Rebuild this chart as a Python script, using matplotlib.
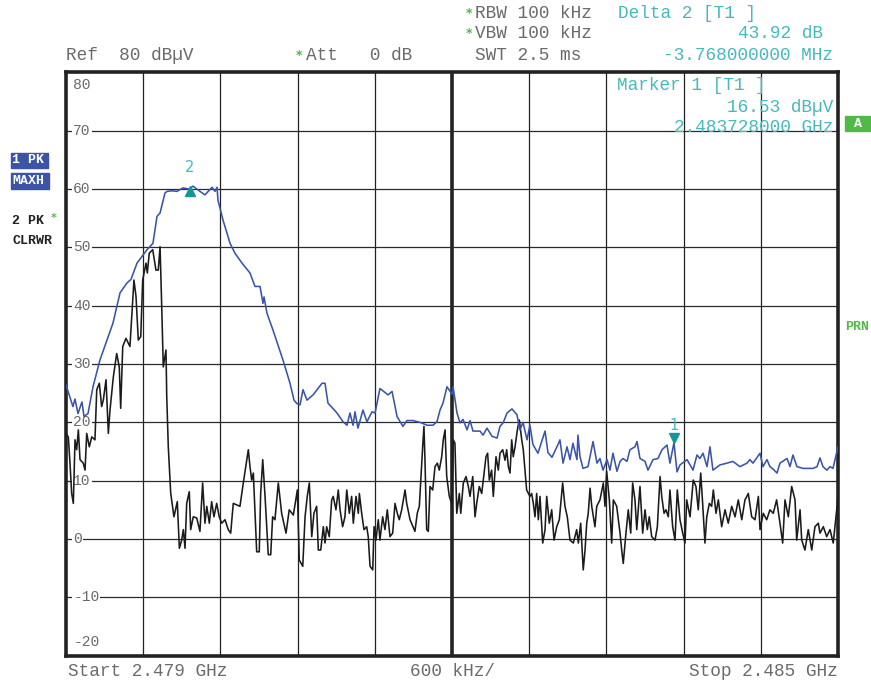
import matplotlib
matplotlib.use("Agg")
import matplotlib.pyplot as plt
import matplotlib.transforms as mtransforms
import numpy as np

# ---------------- data ----------------
start_mhz = 2479.0
stop_mhz = 2485.0
ref_level = 80
y_ticks = [80, 70, 60, 50, 40, 30, 20, 10, 0, -10, -20]
y_tick_labels = ["80", "70", "60", "50", "40", "30", "20", "10", "0", "-10", "-20"]

# Trace 1 (PK, MAXH) - offset from start in MHz, level in dBuV
maxh_offset = [0.000, 0.023, 0.054, 0.070, 0.093, 0.124, 0.140, 0.171, 0.210, 0.264,
               0.319, 0.365, 0.420, 0.474, 0.505, 0.552, 0.630, 0.676, 0.707, 0.731,
               0.769, 0.785, 0.824, 0.863, 0.909, 0.956, 0.987, 1.041, 1.080, 1.135,
               1.158, 1.174, 1.181, 1.220, 1.275, 1.313, 1.368, 1.430, 1.469, 1.508,
               1.531, 1.539, 1.562, 1.609, 1.686, 1.741, 1.772, 1.795, 1.819, 1.842,
               1.873, 1.920, 1.990, 2.013, 2.036, 2.106, 2.153, 2.184, 2.207, 2.231,
               2.246, 2.269, 2.308, 2.339, 2.378, 2.402, 2.440, 2.503, 2.534, 2.573,
               2.619, 2.650, 2.697, 2.751, 2.806, 2.852, 2.883, 2.907, 2.930, 2.961,
               3.000, 3.008, 3.039, 3.062, 3.086, 3.117, 3.140, 3.163, 3.218, 3.241,
               3.272, 3.311, 3.350, 3.373, 3.397, 3.428, 3.466, 3.505, 3.528, 3.552,
               3.583, 3.606, 3.629, 3.668, 3.723, 3.746, 3.777, 3.824, 3.839, 3.863,
               3.894, 3.917, 3.940, 3.971, 3.979, 3.995, 4.018, 4.057, 4.096, 4.127,
               4.150, 4.174, 4.205, 4.228, 4.251, 4.282, 4.306, 4.329, 4.360, 4.383,
               4.422, 4.438, 4.461, 4.500, 4.523, 4.562, 4.601, 4.632, 4.671, 4.694,
               4.725, 4.749, 4.772, 4.827, 4.873, 4.904, 4.927, 4.951, 4.982, 5.005,
               5.028, 5.083, 5.137, 5.183, 5.238, 5.293, 5.315, 5.339, 5.394, 5.417,
               5.448, 5.471, 5.495, 5.526, 5.549, 5.604, 5.627, 5.650, 5.681, 5.728,
               5.806, 5.837, 5.860, 5.883, 5.914, 5.938, 5.961, 6.000]
maxh_level = [26.4, 24.8, 22.7, 24.0, 21.5, 23.5, 21.0, 21.5, 26.1, 30.7,
              34.1, 37.0, 42.2, 43.9, 44.5, 47.3, 49.6, 50.7, 55.3, 55.9,
              59.3, 59.6, 59.7, 59.6, 60.2, 60.0, 60.5, 59.6, 59.0, 60.3,
              59.6, 60.3, 58.1, 54.7, 50.7, 49.0, 47.3, 45.6, 43.3, 43.3,
              40.4, 41.5, 38.7, 35.8, 30.7, 26.7, 23.8, 23.2, 23.0, 25.6,
              23.8, 24.7, 26.7, 26.7, 23.3, 21.6, 20.1, 19.5, 21.6, 19.5,
              21.8, 19.0, 22.1, 20.1, 21.8, 21.6, 25.8, 24.7, 25.3, 21.0,
              19.3, 20.3, 20.3, 20.0, 19.5, 19.5, 20.1, 22.1, 23.3, 26.1,
              24.8, 26.1, 21.6, 19.9, 20.5, 18.7, 20.3, 18.5, 18.5, 17.8,
              19.0, 17.6, 17.3, 19.3, 19.9, 21.6, 22.3, 21.3, 18.7, 20.0,
              17.0, 19.5, 16.2, 14.7, 18.5, 14.8, 14.0, 16.2, 17.0, 13.0,
              15.8, 13.6, 16.4, 13.6, 17.8, 14.1, 12.1, 12.4, 16.7, 13.0,
              13.8, 11.8, 13.6, 11.8, 14.7, 11.6, 13.3, 13.8, 13.3, 15.3,
              15.8, 16.7, 13.8, 13.3, 11.8, 13.6, 13.8, 15.3, 16.1, 13.0,
              16.5, 11.5, 12.7, 13.6, 11.8, 14.4, 13.8, 14.7, 12.4, 15.8,
              11.8, 12.7, 13.0, 13.3, 12.4, 13.0, 13.6, 13.0, 14.7, 12.4,
              13.6, 12.4, 12.0, 11.3, 13.0, 13.8, 12.4, 14.4, 12.4, 12.1,
              12.1, 12.4, 13.9, 12.4, 11.8, 12.4, 12.1, 15.8]

# Trace 2 (PK, CLRWR) - offset from start in MHz, level in dBuV
clrwr_offset = [0.000, 0.018, 0.031, 0.044, 0.057, 0.070, 0.083, 0.096, 0.109, 0.134,
                0.148, 0.161, 0.181, 0.200, 0.225, 0.239, 0.259, 0.277, 0.290, 0.311,
                0.329, 0.342, 0.368, 0.394, 0.414, 0.425, 0.441, 0.466, 0.497, 0.528,
                0.544, 0.562, 0.581, 0.596, 0.622, 0.632, 0.647, 0.674, 0.699, 0.717,
                0.731, 0.744, 0.756, 0.777, 0.783, 0.795, 0.814, 0.839, 0.865, 0.881,
                0.899, 0.912, 0.925, 0.938, 0.958, 0.969, 0.989, 1.016, 1.041, 1.062,
                1.080, 1.094, 1.114, 1.132, 1.150, 1.171, 1.191, 1.210, 1.236, 1.261,
                1.280, 1.300, 1.352, 1.378, 1.417, 1.430, 1.443, 1.456, 1.482, 1.502,
                1.513, 1.529, 1.547, 1.572, 1.591, 1.606, 1.624, 1.650, 1.676, 1.710,
                1.735, 1.767, 1.798, 1.813, 1.840, 1.858, 1.875, 1.891, 1.910, 1.927,
                1.948, 1.961, 1.980, 2.000, 2.013, 2.026, 2.046, 2.065, 2.077, 2.098,
                2.116, 2.130, 2.150, 2.168, 2.182, 2.202, 2.220, 2.233, 2.254, 2.272,
                2.280, 2.298, 2.316, 2.337, 2.349, 2.363, 2.384, 2.394, 2.409, 2.427,
                2.440, 2.461, 2.479, 2.497, 2.518, 2.539, 2.557, 2.575, 2.590, 2.609,
                2.635, 2.648, 2.674, 2.712, 2.730, 2.746, 2.772, 2.782, 2.790, 2.803,
                2.816, 2.829, 2.850, 2.868, 2.886, 2.901, 2.920, 2.932, 2.946, 2.959,
                2.979, 2.998, 3.010, 3.023, 3.037, 3.057, 3.068, 3.088, 3.109, 3.127,
                3.140, 3.161, 3.179, 3.192, 3.212, 3.231, 3.243, 3.264, 3.277, 3.290,
                3.308, 3.321, 3.342, 3.360, 3.373, 3.394, 3.412, 3.425, 3.438, 3.451,
                3.464, 3.476, 3.490, 3.508, 3.523, 3.542, 3.554, 3.580, 3.606, 3.619,
                3.632, 3.645, 3.658, 3.671, 3.684, 3.705, 3.723, 3.736, 3.756, 3.775,
                3.793, 3.814, 3.834, 3.860, 3.878, 3.896, 3.917, 3.943, 3.969, 3.982,
                4.000, 4.020, 4.034, 4.047, 4.059, 4.073, 4.086, 4.111, 4.125, 4.150,
                4.176, 4.189, 4.202, 4.223, 4.241, 4.254, 4.280, 4.306, 4.319, 4.331,
                4.352, 4.370, 4.389, 4.404, 4.422, 4.436, 4.461, 4.482, 4.500, 4.518,
                4.533, 4.552, 4.578, 4.596, 4.617, 4.630, 4.648, 4.663, 4.681, 4.694,
                4.715, 4.733, 4.751, 4.772, 4.793, 4.811, 4.824, 4.850, 4.875, 4.896,
                4.914, 4.933, 4.948, 4.966, 4.980, 5.000, 5.018, 5.031, 5.052, 5.070,
                5.096, 5.122, 5.147, 5.174, 5.200, 5.225, 5.252, 5.277, 5.303, 5.329,
                5.355, 5.381, 5.394, 5.419, 5.446, 5.471, 5.497, 5.523, 5.549, 5.570,
                5.588, 5.614, 5.640, 5.666, 5.679, 5.705, 5.718, 5.743, 5.769, 5.796,
                5.821, 5.847, 5.860, 5.886, 5.912, 5.938, 5.963, 5.990, 6.000]
clrwr_level = [18.0, 17.5, 13.0, 7.8, 6.1, 17.0, 15.3, 18.7, 13.6, 13.0,
               11.8, 18.1, 15.8, 17.5, 17.0, 25.6, 26.7, 22.7, 23.8, 27.3,
               18.1, 22.1, 27.8, 31.8, 29.5, 22.4, 33.0, 34.4, 33.0, 44.4,
               41.6, 34.1, 34.7, 44.4, 47.3, 45.6, 49.0, 49.6, 46.1, 46.1,
               50.1, 39.8, 29.5, 32.4, 24.4, 15.8, 7.8, 3.8, 6.4, -1.6,
               -0.2, 1.6, -1.6, 6.1, 8.1, 1.6, 3.8, 3.6, 1.3, 9.6,
               2.7, 5.6, 2.7, 6.4, 3.8, 6.1, 3.8, 2.7, 3.3, 1.6,
               1.0, 6.1, 5.6, 9.6, 15.3, 12.4, 10.1, 11.3, -2.2, -2.2,
               7.8, 13.6, 7.3, -2.7, -2.7, 3.8, 3.3, 9.6, 4.4, 1.0,
               5.0, 4.1, 8.4, -3.6, -4.7, 3.8, 7.3, 9.6, 0.4, 4.4,
               5.6, -1.9, -1.9, 2.1, -0.7, 2.1, 0.4, 6.7, 7.3, 5.0,
               8.4, 5.0, 2.1, 3.8, 8.4, 4.4, 7.3, 2.7, 7.3, 4.4,
               7.8, 4.4, 1.6, 2.1, 0.4, -4.7, -5.3, 2.1, -0.2, 3.3,
               -0.2, 3.8, 1.6, 5.0, 0.4, 1.0, 6.1, 4.4, 3.3, 5.0,
               8.4, 6.1, 3.3, 1.3, 4.4, 5.6, 15.8, 19.3, 13.5, 1.6,
               1.3, 9.0, 8.4, 12.4, 13.0, 11.8, 14.1, 17.0, 18.7, 10.7,
               7.3, 6.1, 17.0, 16.4, 4.4, 7.8, 4.4, 9.6, 10.7, 9.0,
               7.3, 10.7, 3.8, 6.1, 9.0, 7.8, 10.1, 14.1, 14.7, 10.1,
               11.8, 7.3, 14.1, 11.8, 14.7, 15.3, 13.5, 15.3, 12.4, 11.3,
               17.0, 14.1, 15.8, 18.7, 20.4, 17.0, 15.3, 8.4, 7.3, 7.8,
               6.1, 3.8, 7.8, 3.3, 7.3, -0.7, 1.6, 7.3, 2.7, 5.0,
               -0.2, 2.1, 3.3, 9.6, 5.6, 3.8, -0.2, -0.7, 1.6, -0.7,
               2.7, -5.3, -1.9, 2.7, 4.4, 8.7, 5.6, 2.1, 5.6, 6.7,
               9.6, 5.6, 11.6, 6.7, -0.7, 6.7, 5.6, 1.0, -1.9, -4.2,
               1.0, 5.0, 1.0, 9.6, 6.7, 1.6, 9.0, 1.0, 5.0, 1.6,
               3.8, 0.4, -0.2, 2.1, 10.7, 7.3, 4.4, 5.0, 3.8, 8.4,
               2.1, -0.2, 8.4, 3.3, 1.0, -0.7, 6.7, 3.8, 10.1, 9.0,
               5.0, 11.3, 6.1, -0.7, 3.8, 6.1, 5.6, 8.4, 4.4, 6.7,
               2.1, 5.0, 2.7, 5.6, 3.8, 6.7, 3.3, 6.7, 7.8, 3.8,
               3.3, 7.3, 1.6, 4.4, 3.3, 5.0, 4.4, 6.7, 2.7, -0.7,
               6.7, 3.8, 9.0, 6.7, -0.2, 5.0, -0.2, -1.9, 1.6, -1.9,
               2.1, 2.7, 1.0, 2.1, 0.4, 1.6, -0.7, 5.0, 7.3]

# Markers
marker1_mhz = 2483.728
marker1_level = 16.53
delta2_db = 43.92
delta2_mhz = -3.768
marker2_mhz = marker1_mhz + delta2_mhz
marker2_level = marker1_level + delta2_db

# ---------------- figure ----------------
W, H = 871, 682
fig = plt.figure(figsize=(W / 100, H / 100), dpi=100)
fig.patch.set_facecolor("white")

L, R, T, B = 66, 838, 72.4, 655.6
ax = fig.add_axes([L / W, 1 - B / H, (R - L) / W, (B - T) / H])
ax.set_xlim(start_mhz, stop_mhz)
ax.set_ylim(ref_level - 100, ref_level)
ax.set_xticks([])
ax.set_yticks([])
for s in ax.spines.values():
    s.set_linewidth(2.6)
    s.set_color("#222222")

mono = "Liberation Mono"
gray = "#6a6a6a"
teal_txt = "#45b9bb"
teal_mk = "#169595"
green = "#4cb847"
blue = "#3a55a8"

# grid
for i in range(1, 10):
    xv = start_mhz + i * (stop_mhz - start_mhz) / 10
    ax.axvline(xv, color="#222222", lw=2.6 if i == 5 else 0.9, zorder=1)
for yv in y_ticks[1:-1]:
    ax.axhline(yv, color="#2a2a2a", lw=0.9, zorder=1)

# y labels inside plot with white background
for yv, lab in zip(y_ticks, y_tick_labels):
    if yv == 80:
        va, yy = "top", yv - 1.0
    elif yv == -20:
        va, yy = "bottom", yv + 1.2
    else:
        va, yy = "center", yv
    ax.text(0.0095, yy, lab, transform=ax.get_yaxis_transform(), fontsize=10.5,
            family=mono, color=gray, ha="left", va=va, zorder=2,
            bbox=dict(facecolor="white", edgecolor="none", pad=0.6) if va == "center" else None)

# traces
fx1 = start_mhz + np.array(maxh_offset)
fx2 = start_mhz + np.array(clrwr_offset)
ax.plot(fx2, clrwr_level, color="#1b1b1b", lw=1.15, zorder=3)
ax.plot(fx1, maxh_level, color=blue, lw=1.15, zorder=4)

# markers (apex at marker level)
up = mtransforms.offset_copy(ax.transData, fig=fig, y=-3.5, units="points")
dn = mtransforms.offset_copy(ax.transData, fig=fig, y=3.5, units="points")
ax.plot([marker2_mhz], [marker2_level], marker="^", ms=7, color=teal_mk,
        transform=up, zorder=5, clip_on=False)
ax.plot([marker1_mhz], [marker1_level], marker="v", ms=7, color=teal_mk,
        transform=dn, zorder=5, clip_on=False)
ax.text(marker2_mhz, marker2_level + 3.3, "2", color=teal_txt, fontsize=10.5,
        ha="center", va="center", zorder=5)
ax.text(marker1_mhz, marker1_level + 3.0, "1", color=teal_txt, fontsize=10.5,
        ha="center", va="center", zorder=5)


def ftext(x, y, s, ha="left", color=gray, size=12.8, weight="normal", family=mono, **kw):
    fig.text(x / W, 1 - y / H, s, ha=ha, va="center", color=color, fontsize=size,
             family=family, weight=weight, **kw)


# header text
ftext(466, 13, "*", color=green, size=9, family="DejaVu Sans", weight="bold")
ftext(475, 13, "RBW 100 kHz")
ftext(618, 13, "Delta 2 [T1 ]", color=teal_txt)
ftext(466, 33, "*", color=green, size=9, family="DejaVu Sans", weight="bold")
ftext(475, 33, "VBW 100 kHz")
ftext(823, 33, f"{delta2_db:.2f} dB", ha="right", color=teal_txt)
ftext(66, 55, "Ref  80 dBµV")
ftext(296, 55, "*", color=green, size=9, family="DejaVu Sans", weight="bold")
ftext(306, 55, "Att   0 dB")
ftext(475, 55, "SWT 2.5 ms")
ftext(833, 55, f"{delta2_mhz:.9f} MHz", ha="right", color=teal_txt)

# marker 1 readout in plot
ftext(617, 86, "Marker 1 [T1 ]", color=teal_txt)
ftext(833, 107, f"{marker1_level:.2f} dBµV", ha="right", color=teal_txt)
ftext(833, 128, f"{marker1_mhz / 1000:.9f} GHz", ha="right", color=teal_txt)

# footer
ftext(68, 671, "Start 2.479 GHz")
ftext(452, 671, "600 kHz/", ha="center")
ftext(838, 671, "Stop 2.485 GHz", ha="right")

# left side trace labels
box_blue = "#3d54a6"
fig.patches.append(plt.Rectangle((11 / W, 1 - 168 / H), 37 / W, 15 / H,
                                 transform=fig.transFigure, color=box_blue))
fig.patches.append(plt.Rectangle((11 / W, 1 - 189 / H), 38 / W, 16 / H,
                                 transform=fig.transFigure, color=box_blue))
ftext(12, 160, "1 PK", color="white", size=9.5, weight="bold")
ftext(12, 181, "MAXH", color="white", size=9.5, weight="bold")
ftext(12, 221, "2 PK", color="#222222", size=9.5, weight="bold")
ftext(51, 218, "*", color=green, size=8, family="DejaVu Sans", weight="bold")
ftext(12, 241, "CLRWR", color="#222222", size=9.5, weight="bold")

# right side labels
fig.patches.append(plt.Rectangle((845 / W, 1 - 131 / H), 26 / W, 15 / H,
                                 transform=fig.transFigure, color="#52b848"))
ftext(858, 124, "A", ha="center", color="white", size=9.5, weight="bold")
ftext(845, 327, "PRN", color="#52b848", size=9.5, weight="bold")

fig.savefig("out.png", dpi=100, facecolor="white")
